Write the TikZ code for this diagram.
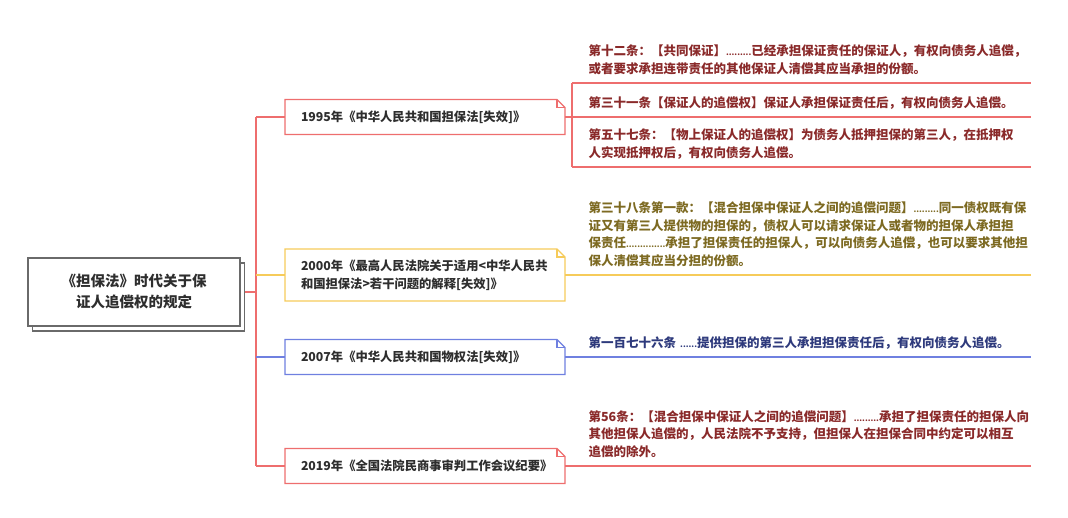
\documentclass[tikz,border=0pt]{standalone}
\usepackage{fontspec}
\setmainfont{Noto Sans CJK SC}
\usepackage{tikz}
\usetikzlibrary{shadows}

\definecolor{lineRed}{HTML}{EE6E6E}
\definecolor{lineYellow}{HTML}{F6CB5A}
\definecolor{lineBlue}{HTML}{6F80E0}
\definecolor{textRed}{HTML}{8A2A2A}
\definecolor{textOlive}{HTML}{7D6A22}
\definecolor{textBlue}{HTML}{2E3A7C}
\definecolor{textGray}{HTML}{2E2E2E}
\definecolor{rootGray}{HTML}{6A6A6A}

% box with a folded top right corner
\newcommand{\dogear}[2]{%
  \draw[#2] (#1.south west) -- (#1.north west) -- ([xshift=-8pt]#1.north east) -- ([yshift=-8pt]#1.north east) -- (#1.south east) -- cycle;
  \draw[#2] ([xshift=-8pt]#1.north east) |- ([yshift=-8pt]#1.north east);
}
% small ellipsis dots
\newcommand{\dotrun}[1]{{\fontsize{8}{8}\selectfont #1}}

\begin{document}
\begin{tikzpicture}[x=1pt,y=-1pt,line width=1.1pt,
  red line/.style={draw=lineRed},
  yellow line/.style={draw=lineYellow},
  blue line/.style={draw=lineBlue},
  root node/.style={rectangle,draw=rootGray,fill=white,line width=1.3pt,minimum width=212pt,minimum height=68pt,align=center,text=textGray,font=\fontsize{14.5}{21}\selectfont\bfseries,copy shadow={shadow xshift=4.5pt,shadow yshift=-5pt}},
  year node/.style={rectangle,fill=white,outer sep=0pt,minimum width=280pt,minimum height=35pt,inner xsep=16pt,text width=248pt,align=left,text=textGray,font=\fontsize{12.3}{17.5}\selectfont\bfseries,anchor=west},
  leaf node/.style={anchor=south west,inner xsep=0pt,inner ysep=4pt,text width=442pt,align=left,font=\fontsize{12.5}{17.5}\selectfont\bfseries,execute at end node=\strut}]

		\useasboundingbox (0,0) rectangle (1068,517);

		\node[root node] at (134,292) (root) {《担保法》时代关于保\\证人追偿权的规定};

		\node[year node] at (285,117) (y1995) {1995年《中华人民共和国担保法[失效]》};
		\node[year node,minimum height=52pt] at (285,275) (y2000) {2000年《最高人民法院关于适用<中华人民共\\和国担保法>若干问题的解释[失效]》};
		\node[year node] at (285,357) (y2007) {2007年《中华人民共和国物权法[失效]》};
		\node[year node] at (285,466) (y2019) {2019年《全国法院民商事审判工作会议纪要》};

		\dogear{y1995}{red line}
		\dogear{y2000}{yellow line}
		\dogear{y2007}{blue line}
		\dogear{y2019}{red line}

		\node[leaf node,text=textRed] at (588,83) (a12) {第十二条：【共同保证】\dotrun{.........}已经承担保证责任的保证人，有权向债务人追偿，\\或者要求承担连带责任的其他保证人清偿其应当承担的份额。};
		\node[leaf node,text=textRed] at (588,117) (a31) {第三十一条【保证人的追偿权】保证人承担保证责任后，有权向债务人追偿。};
		\node[leaf node,text=textRed] at (588,167) (a57) {第五十七条：【物上保证人的追偿权】为债务人抵押担保的第三人，在抵押权\\人实现抵押权后，有权向债务人追偿。};
		\node[leaf node,text=textOlive] at (588,275) (a38) {第三十八条第一款：【混合担保中保证人之间的追偿问题】\dotrun{.........}同一债权既有保\\证又有第三人提供物的担保的，债权人可以请求保证人或者物的担保人承担担\\保责任\dotrun{..............}承担了担保责任的担保人，可以向债务人追偿，也可以要求其他担\\保人清偿其应当分担的份额。};
		\node[leaf node,text=textBlue] at (588,357) (a176) {第一百七十六条 \dotrun{......}提供担保的第三人承担担保责任后，有权向债务人追偿。};
		\node[leaf node,text=textRed] at (588,466) (a56) {第56条：【混合担保中保证人之间的追偿问题】\dotrun{.........}承担了担保责任的担保人向\\其他担保人追偿的，人民法院不予支持，但担保人在担保合同中约定可以相互\\追偿的除外。};

		\coordinate (fork) at (256,292);
		\coordinate (brace) at (572,117);

		\draw[red line] ([xshift=4.5pt]root.east) -- (fork);
		\draw[red line] (fork |- y1995.west) -- (fork |- y2019.west);
		\draw[red line] (brace |- a12.south) -- (brace |- a57.south);

		\path
		(fork |- y1995.west) edge[red line] (y1995.west)
		(fork |- y2000.west) edge[yellow line] (y2000.west)
		(fork |- y2007.west) edge[blue line] (y2007.west)
		(fork |- y2019.west) edge[red line] (y2019.west)
		(y1995.east) edge[red line] (a31.south east)
		(brace |- a12.south) edge[red line] (a12.south east)
		(brace |- a57.south) edge[red line] (a57.south east)
		(y2000.east) edge[yellow line] (a38.south east)
		(y2007.east) edge[blue line] (a176.south east)
		(y2019.east) edge[red line] (a56.south east)
		;

\end{tikzpicture}
\end{document}
